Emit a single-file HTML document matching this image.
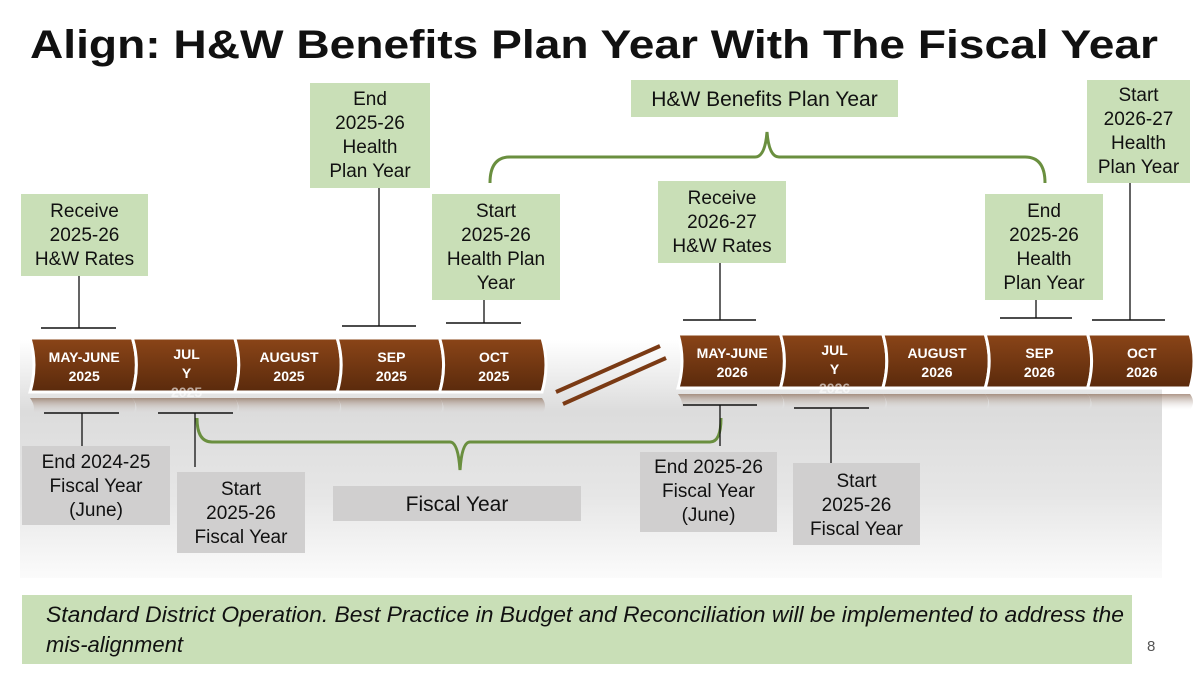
<!DOCTYPE html>
<html><head><meta charset="utf-8"><style>
html,body{margin:0;padding:0;background:#fff;width:1200px;height:675px;overflow:hidden}
svg{display:block}
text{font-family:"Liberation Sans",sans-serif}
</style></head><body>
<svg id="s" width="1200" height="675" viewBox="0 0 1200 675" xmlns="http://www.w3.org/2000/svg">
<defs>
<linearGradient id="bg" x1="0" y1="0" x2="0" y2="1">
<stop offset="0" stop-color="#fff"/><stop offset="0.3" stop-color="#dcdcdc"/><stop offset="0.65" stop-color="#e6e6e6"/><stop offset="1" stop-color="#fbfbfb"/></linearGradient>
<linearGradient id="br" x1="0" y1="0" x2="0" y2="1">
<stop offset="0" stop-color="#8b4518"/><stop offset="1" stop-color="#5a2a0c"/></linearGradient>
<linearGradient id="rf" x1="0" y1="0" x2="0" y2="1">
<stop offset="0" stop-color="#8a6a55" stop-opacity="0.7"/><stop offset="1" stop-color="#ddd" stop-opacity="0"/></linearGradient>
</defs>
<rect x="20" y="340" width="1142" height="238" fill="url(#bg)"/>
<text x="30" y="58" font-size="40" font-weight="bold" fill="#111" textLength="1128" lengthAdjust="spacingAndGlyphs">Align: H&amp;W Benefits Plan Year With The Fiscal Year</text>

<g id="tl"></g>

<line x1="556" y1="392" x2="660" y2="346" stroke="#7a3a14" stroke-width="4"/>
<line x1="563" y1="404" x2="666" y2="358" stroke="#7a3a14" stroke-width="4"/>

<!-- braces -->
<path d="M490,183 Q490,157 510,157 L755,157 Q765,157 767,132 Q769,157 779,157 L1025,157 Q1045,157 1045,183" fill="none" stroke="#6a8f3f" stroke-width="3"/>
<path d="M197,418 Q197,442 212,442 L450,442 Q458,442 460,470 Q462,442 470,442 L710,442 Q721,442 721,418" fill="none" stroke="#6a8f3f" stroke-width="3"/>

<g id="boxes"></g>

<rect x="22" y="595" width="1110" height="69" fill="#c9dfb7"/>
<text x="46" y="622" font-size="22" font-style="italic" fill="#111" textLength="1078" lengthAdjust="spacingAndGlyphs">Standard District Operation. Best Practice in Budget and Reconciliation will be implemented to address the</text>
<text x="46" y="652" font-size="22" font-style="italic" fill="#111">mis-alignment</text>
<text x="1147" y="651" font-size="15" fill="#555">8</text>
</svg>
<script>
const NS="http://www.w3.org/2000/svg";
const months1=[["MAY-JUNE","2025"],["JUL","Y","2025"],["AUGUST","2025"],["SEP","2025"],["OCT","2025"]];
const months2=[["MAY-JUNE","2026"],["JUL","Y","2026"],["AUGUST","2026"],["SEP","2026"],["OCT","2026"]];
function mk(t,a,p){const e=document.createElementNS(NS,t);for(const k in a)e.setAttribute(k,a[k]);p.appendChild(e);return e;}
const tl=document.getElementById('tl');
function row(list,x0,y0){
  const w=102.4,h=54;
  list.forEach((m,i)=>{
    const x=x0+i*w;
    const g=mk('g',{},tl);
    
    
    const d=`M${x},${y0} Q${x+8},${y0+h/2} ${x},${y0+h} L${x+w},${y0+h} Q${x+w+8},${y0+h/2} ${x+w},${y0} Z`;
    mk('path',{d:d,fill:'url(#br)',stroke:'#fff','stroke-width':3},g);
    const rd=`M${x},${y0+h+6} Q${x+6},${y0+h+14} ${x+3},${y0+h+22} L${x+w},${y0+h+22} Q${x+w+6},${y0+h+14} ${x+w},${y0+h+6} Z`;
    mk('path',{d:rd,fill:'url(#rf)'},g);
    const cx=x+w/2+3;
    const lines=m;
    const start = lines.length===3 ? y0+21 : y0+24;
    lines.forEach((s,j)=>{
      const t=mk('text',{x:cx,y:start+j*19,'font-size':14,'font-weight':'bold',fill:'#fff','text-anchor':'middle'},g);
      if(j===2) t.setAttribute('opacity','0.6');
      t.textContent=s;
    });
  });
}
row(months1,30,338);
row(months2,678,334);

const boxes=document.getElementById('boxes');
// [x,y,w,h,fill,lines,firstLineCenterY,stemX,stemY1,stemY2,barX1,barX2,name]
const G='#c9dfb7',Y='#d0cfcf';
const defs=[
 [21,194,127,82,G,["Receive","2025-26","H&W Rates"],210,79,276,328,41,116,'receive-2025-26-rates'],
 [310,83,120,105,G,["End","2025-26","Health","Plan Year"],98,379,188,326,342,416,'end-2025-26-health-plan'],
 [432,194,128,106,G,["Start","2025-26","Health Plan","Year"],210,484,300,323,446,521,'start-2025-26-health-plan'],
 [631,80,267,37,G,["H&W Benefits Plan Year"],99,null,0,0,0,0,'plan-year-label'],
 [658,181,128,82,G,["Receive","2026-27","H&W Rates"],197,720,263,320,683,756,'receive-2026-27-rates'],
 [985,194,118,106,G,["End","2025-26","Health","Plan Year"],210,1036,300,318,1000,1072,'end-2025-26-health-plan-right'],
 [1087,80,103,103,G,["Start","2026-27","Health","Plan Year"],94,1130,183,320,1092,1165,'start-2026-27-health-plan'],
 [22,446,148,79,Y,["End 2024-25","Fiscal Year","(June)"],461,82,446,413,44,119,'end-2024-25-fiscal'],
 [177,472,128,81,Y,["Start","2025-26","Fiscal Year"],488,195,467,413,158,233,'start-2025-26-fiscal'],
 [333,486,248,35,Y,["Fiscal Year"],504,null,0,0,0,0,'fiscal-year-label'],
 [640,452,137,80,Y,["End 2025-26","Fiscal Year","(June)"],466,720,446,405,683,757,'end-2025-26-fiscal'],
 [793,463,127,82,Y,["Start","2025-26","Fiscal Year"],480,831,463,408,794,869,'start-2025-26-fiscal-right']
];
defs.forEach(b=>{
  const [x,y,w,h,f,lines,ly,sx,sy1,sy2,bx1,bx2,name]=b;
  const g=mk('g',{},boxes);
  
  
  if(sx!==null){
    mk('line',{x1:sx,y1:sy1,x2:sx,y2:sy2,stroke:'#111','stroke-width':1.3},g);
    mk('line',{x1:bx1,y1:sy2,x2:bx2,y2:sy2,stroke:'#111','stroke-width':1.5},g);
  }
  mk('rect',{x:x,y:y,width:w,height:h,fill:f},g);
  const fs = lines.length===1 ? 21 : 19;
  lines.forEach((s,j)=>{
    const t=mk('text',{x:x+w/2,y:ly+j*24+7,'font-size':fs,fill:'#111','text-anchor':'middle'},g);
    t.textContent=s;
  });
});
</script>
</body></html>
